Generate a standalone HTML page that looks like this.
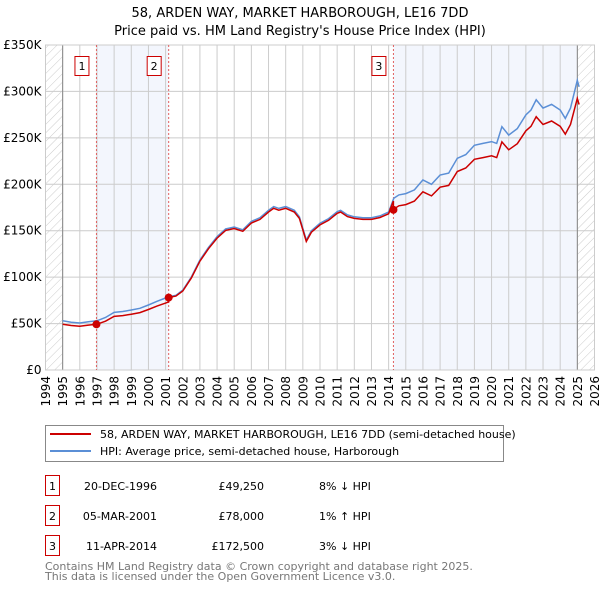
<!DOCTYPE html>
<html><head><meta charset="utf-8"><style>
body{margin:0;background:#fff;font-family:"DejaVu Sans","Liberation Sans",sans-serif;}
svg{display:block}
</style></head><body>
<svg id="c" width="600" height="590" xmlns="http://www.w3.org/2000/svg" font-family="DejaVu Sans, Liberation Sans, sans-serif">
<defs><pattern id="hatch" width="6" height="6" patternUnits="userSpaceOnUse" patternTransform="rotate(45)"><line x1="0" y1="0" x2="0" y2="6" stroke="#ccc" stroke-width="1"/></pattern></defs>
<text x="300" y="17" text-anchor="middle" font-size="13">58, ARDEN WAY, MARKET HARBOROUGH, LE16 7DD</text>
<text x="300" y="35" text-anchor="middle" font-size="13">Price paid vs. HM Land Registry's House Price Index (HPI)</text>
<g id="plot"></g>
<g>
<rect x="45.5" y="425.5" width="458" height="36" fill="#fff" stroke="#888"/>
<line x1="50" y1="434" x2="91" y2="434" stroke="#cc0000" stroke-width="2"/>
<text x="100" y="438" font-size="11">58, ARDEN WAY, MARKET HARBOROUGH, LE16 7DD (semi-detached house)</text>
<line x1="50" y1="451" x2="91" y2="451" stroke="#5b8fd6" stroke-width="2"/>
<text x="100" y="455" font-size="11">HPI: Average price, semi-detached house, Harborough</text>
</g>
<g id="table" font-size="11"></g>
<text x="45" y="570" font-size="11" fill="#777">Contains HM Land Registry data © Crown copyright and database right 2025.</text>
<text x="45" y="580" font-size="11" fill="#777">This data is licensed under the Open Government Licence v3.0.</text>
</svg>
<script>
const years=[1995,1995.5,1996,1996.5,1997,1997.5,1998,1998.5,1999,1999.5,2000,2000.5,2001,2001.2,2001.6,2002,2002.5,2003,2003.5,2004,2004.5,2005,2005.5,2006,2006.5,2007,2007.3,2007.6,2008,2008.5,2008.8,2009.2,2009.5,2010,2010.5,2011,2011.2,2011.6,2012,2012.5,2013,2013.5,2014,2014.3,2014.6,2015,2015.5,2016,2016.5,2017,2017.5,2018,2018.5,2019,2019.5,2020,2020.3,2020.6,2021,2021.5,2022,2022.3,2022.6,2023,2023.5,2024,2024.3,2024.6,2025,2025.1];
const hpi=[53000,51500,50600,52000,53000,56500,62000,63000,64600,66500,70000,74000,77500,79000,80500,86000,100000,118500,132000,143600,152000,154000,151000,160000,164000,172000,176000,174000,176000,172000,165000,140000,150000,158000,163000,170600,172000,167000,165000,164000,164000,166000,170000,185000,188600,190000,194000,204700,200000,210000,212000,228000,232000,242000,244000,246000,244000,262000,253000,260000,274800,280000,291000,282000,286000,280000,271000,282000,312000,305000];
const saleDates=[1996.97,2001.18,2014.28];
const salePrices=[49250,78000,172500];
const saleLabels=["1","2","3"];
const saleDateText=["20-DEC-1996","05-MAR-2001","11-APR-2014"];
const salePriceText=["£49,250","£78,000","£172,500"];
const saleHpiText=["8% ↓ HPI","1% ↑ HPI","3% ↓ HPI"];
const yTicks=[0,50000,100000,150000,200000,250000,300000,350000];
const yTickLabels=["£0","£50K","£100K","£150K","£200K","£250K","£300K","£350K"];
const xTicks=[1994,1995,1996,1997,1998,1999,2000,2001,2002,2003,2004,2005,2006,2007,2008,2009,2010,2011,2012,2013,2014,2015,2016,2017,2018,2019,2020,2021,2022,2023,2024,2025,2026];

const X0=45.5,X1=594.5,Y0=370,Y1=45;
const sx=y=>X0+(y-1994)/(2026-1994)*(X1-X0);
const sy=v=>Y0-v/350000*(Y0-Y1);
const NS="http://www.w3.org/2000/svg";
function mk(p,t,a){const e=document.createElementNS(NS,t);for(const k in a)e.setAttribute(k,a[k]);p.appendChild(e);return e;}
const g=document.getElementById('plot');
function hpiAt(t){for(let i=1;i<years.length;i++){if(t<=years[i]){const f=(t-years[i-1])/(years[i]-years[i-1]);return hpi[i-1]+f*(hpi[i]-hpi[i-1]);}}return hpi[hpi.length-1];}
let e=mk(g,'rect',{x:sx(saleDates[0]),y:Y1,width:sx(saleDates[1])-sx(saleDates[0]),height:Y0-Y1,fill:'#f3f6fd'});

e=mk(g,'rect',{x:sx(saleDates[2]),y:Y1,width:sx(2025)-sx(saleDates[2]),height:Y0-Y1,fill:'#f3f6fd'});

e=mk(g,'rect',{x:X0,y:Y1,width:sx(1995)-X0,height:Y0-Y1,fill:'url(#hatch)'});

e=mk(g,'rect',{x:sx(2025),y:Y1,width:X1-sx(2025),height:Y0-Y1,fill:'url(#hatch)'});

xTicks.forEach((t,i)=>{const x=sx(t);
 const l=mk(g,'line',{x1:x,y1:Y1,x2:x,y2:Y0,stroke:'#ccc','stroke-width':1});
 
 const tx=mk(g,'text',{x:x+4.5,y:Y0+6,'text-anchor':'end','font-size':12,transform:`rotate(-90 ${x+4.5} ${Y0+6})`});tx.textContent=t;
 });
yTicks.forEach((v,i)=>{const y=sy(v);
 const l=mk(g,'line',{x1:X0,y1:y,x2:X1,y2:y,stroke:'#ccc','stroke-width':1});
 
 const tx=mk(g,'text',{x:X0-4,y:y+4,'text-anchor':'end','font-size':12});tx.textContent=yTickLabels[i];
 });
e=mk(g,'line',{x1:sx(1995),y1:Y1,x2:sx(1995),y2:Y0,stroke:'#888'});
e=mk(g,'line',{x1:sx(2025),y1:Y1,x2:sx(2025),y2:Y0,stroke:'#888'});
e=mk(g,'rect',{x:X0,y:Y1,width:X1-X0,height:Y0-Y1,fill:'none',stroke:'#ccc'});
saleDates.forEach((d,i)=>{const x=sx(d);
 const l=mk(g,'line',{x1:x,y1:Y1,x2:x,y2:Y0,stroke:'#e06060','stroke-dasharray':'2,2'});
 
 const b=mk(g,'rect',{x:x-21.5,y:56.5,width:14,height:19,fill:'#fff',stroke:'#cc0000'});
 
 const t=mk(g,'text',{x:x-14.5,y:70,'text-anchor':'middle','font-size':11});t.textContent=saleLabels[i];
 });
let dh=years.map((t,i)=>(i?'L':'M')+sx(t).toFixed(1)+','+sy(hpi[i]).toFixed(1)).join('');
e=mk(g,'path',{d:dh,fill:'none',stroke:'#5b8fd6','stroke-width':1.5});

function factor(t){let f=salePrices[0]/hpiAt(saleDates[0]);for(let i=0;i<saleDates.length;i++){if(t>=saleDates[i])f=salePrices[i]/hpiAt(saleDates[i]);}return f;}
let pts=[];years.forEach((t,i)=>{saleDates.forEach(d=>{if(pts.length&&pts[pts.length-1][0]<d&&t>=d){pts.push([d,hpiAt(d)*factor(d-1e-6)]);pts.push([d,hpiAt(d)*factor(d)]);}});pts.push([t,hpi[i]*factor(t)]);});
let dr=pts.map((p,i)=>(i?'L':'M')+sx(p[0]).toFixed(1)+','+sy(p[1]).toFixed(1)).join('');
e=mk(g,'path',{d:dr,fill:'none',stroke:'#cc0000','stroke-width':1.5});

saleDates.forEach((d,i)=>{const c=mk(g,'circle',{cx:sx(d),cy:sy(salePrices[i]),r:4,fill:'#cc0000'});
 });
const tb=document.getElementById('table');
saleDates.forEach((d,i)=>{const y=490+i*30;
 const b=mk(tb,'rect',{x:45.5,y:y-14.5,width:14,height:20,fill:'#fff',stroke:'#cc0000'});
 
 let t=mk(tb,'text',{x:52.5,y:y,'text-anchor':'middle'});t.textContent=saleLabels[i];
 
 t=mk(tb,'text',{x:157,y:y,'text-anchor':'end'});t.textContent=saleDateText[i];
 
 t=mk(tb,'text',{x:264,y:y,'text-anchor':'end'});t.textContent=salePriceText[i];
 
 t=mk(tb,'text',{x:319,y:y});t.textContent=saleHpiText[i];
 });
</script>
</body></html>
